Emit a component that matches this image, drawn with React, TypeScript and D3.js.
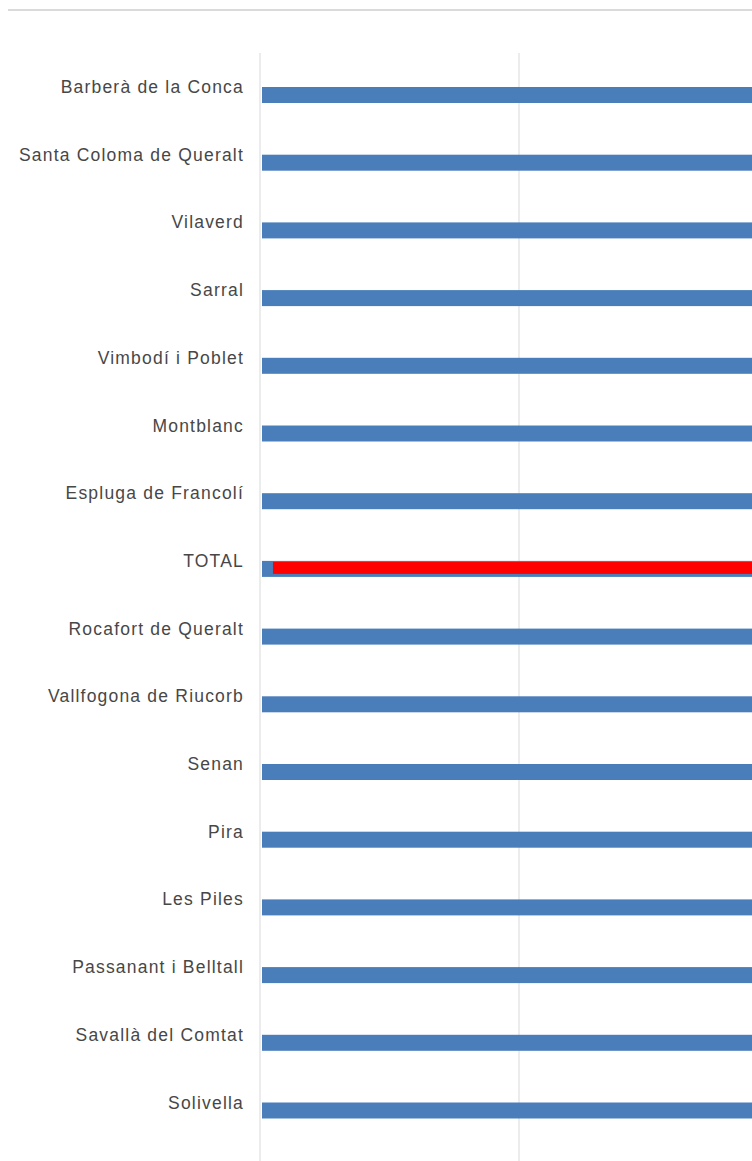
import React from "react";
import * as d3 from "d3";

const categories = [
  "Barberà de la Conca",
  "Santa Coloma de Queralt",
  "Vilaverd",
  "Sarral",
  "Vimbodí i Poblet",
  "Montblanc",
  "Espluga de Francolí",
  "TOTAL",
  "Rocafort de Queralt",
  "Vallfogona de Riucorb",
  "Senan",
  "Pira",
  "Les Piles",
  "Passanant i Belltall",
  "Savallà del Comtat",
  "Solivella",
];
const values = [38, 37, 36, 35, 34, 33, 32, 31.5, 31, 30, 29, 28, 27, 26, 25, 24];
const highlightCategory = "TOTAL";
const highlightStart = 0.5;
const xTicks = [0, 10, 20, 30, 40];

const W = 752;
const H = 1161;

export default function App() {
  const x = d3.scaleLinear().domain([0, 10]).range([260, 519]);
  const y = d3
    .scalePoint<string>()
    .domain(categories)
    .range([95, 95 + 67.7 * (categories.length - 1)]);
  const barH = 16;
  const hiH = 12;

  return (
    <svg
      width={W}
      height={H}
      style={{ position: "absolute", left: 0, top: 0, background: "#fff" }}
    >
      <rect x={0} y={0} width={W} height={H} fill="#fff" />
      <line x1={8} x2={W} y1={10} y2={10} stroke="#dadada" strokeWidth={2} />
      {xTicks.map((t) => (
        <line
          key={t}
          x1={x(t)}
          x2={x(t)}
          y1={53}
          y2={H}
          stroke="#d9d9d9"
          strokeWidth={1}
        />
      ))}
      {categories.map((c, i) => {
        const cy = y(c)!;
        return (
          <g key={c}>
            <rect
              x={x(0) + 2}
              y={cy - barH / 2}
              width={x(values[i]) - x(0) - 2}
              height={barH}
              fill="#4a7ebb"
            />
            {c === highlightCategory && (
              <rect
                x={x(highlightStart)}
                y={cy - hiH / 2 - 1}
                width={x(values[i]) - x(highlightStart)}
                height={hiH}
                fill="#ff0000"
              />
            )}
            <text
              x={244}
              y={cy - 2}
              textAnchor="end"
              fontFamily="'Liberation Sans', Arial, sans-serif"
              fontSize={17.5}
              letterSpacing={1.2}
              fill="#474747"
            >
              {c}
            </text>
          </g>
        );
      })}
    </svg>
  );
}
